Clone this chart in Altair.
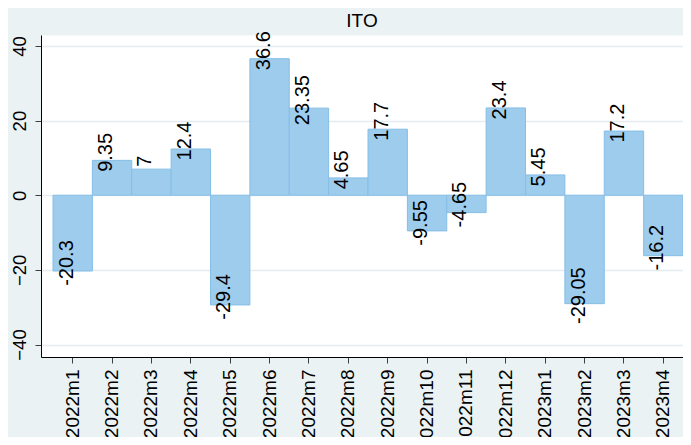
import altair as alt
import pandas as pd

months = ["2022m1", "2022m2", "2022m3", "2022m4", "2022m5", "2022m6", "2022m7",
          "2022m8", "2022m9", "2022m10", "2022m11", "2022m12", "2023m1",
          "2023m2", "2023m3", "2023m4"]
values = [-20.3, 9.35, 7, 12.4, -29.4, 36.6, 23.35, 4.65, 17.7, -9.55, -4.65,
          23.4, 5.45, -29.05, 17.2, -16.2]
labels = [f"{v:g}" for v in values]
y_ticks = [-40, -20, 0, 20, 40]
title_text = ["ITO"]

df = pd.DataFrame({"month": months, "value": values, "label": labels})
df_title = pd.DataFrame({"t": title_text})

FONT = "Liberation Sans"
W, H = 642, 322

x_enc = alt.X(
    "month:N", sort=months, title=None,
    scale=alt.Scale(paddingInner=0, paddingOuter=0.1524, align=1),
    axis=alt.Axis(labelAngle=270, labelAlign="right", labelBaseline="middle",
                  labelFontSize=19, labelFont=FONT, labelColor="black",
                  labelPadding=6, tickSize=6, tickColor="#404040", tickWidth=1,
                  domainColor="black", domainWidth=1, labelOverlap=False,
                  grid=False),
)
y_enc = alt.Y(
    "value:Q", title=None,
    scale=alt.Scale(domain=[-43.35, 42.95], nice=False, zero=False),
    axis=alt.Axis(values=y_ticks, labelAngle=270, labelAlign="center",
                  labelBaseline="alphabetic", labelFontSize=18.5,
                  labelFont=FONT, labelColor="black", labelPadding=10,
                  tickSize=6, tickColor="#404040", tickWidth=1,
                  grid=True, gridColor="#E4ECEF", gridWidth=1.5,
                  domainColor="black", domainWidth=1),
)

bars = alt.Chart(df).mark_bar(color="#9DCCEC", stroke="#86BEE6", strokeWidth=1).encode(
    x=x_enc, y=y_enc, y2=alt.datum(0)
)

text = alt.Chart(df).mark_text(
    angle=270, align="center", baseline="alphabetic", dx=8,
    fontSize=20, font=FONT, color="black"
).encode(x=alt.X("month:N", sort=months), y=alt.Y("value:Q"), text="label:N")

title = alt.Chart(df_title).mark_text(
    align="center", baseline="alphabetic", fontSize=19, font=FONT,
    color="black"
).encode(x=alt.value(W / 2), y=alt.value(-8), text="t:N")

chart = alt.layer(bars, text, title).properties(
    width=W, height=H,
    autosize=alt.AutoSizeParams(type="none"),
    padding={"left": 33, "top": 27, "right": 0, "bottom": 80},
    background="#EAF2F3",
).configure_view(fill="white", stroke="transparent")

chart.save("out.html", embed_options={"renderer": "svg", "actions": False})
